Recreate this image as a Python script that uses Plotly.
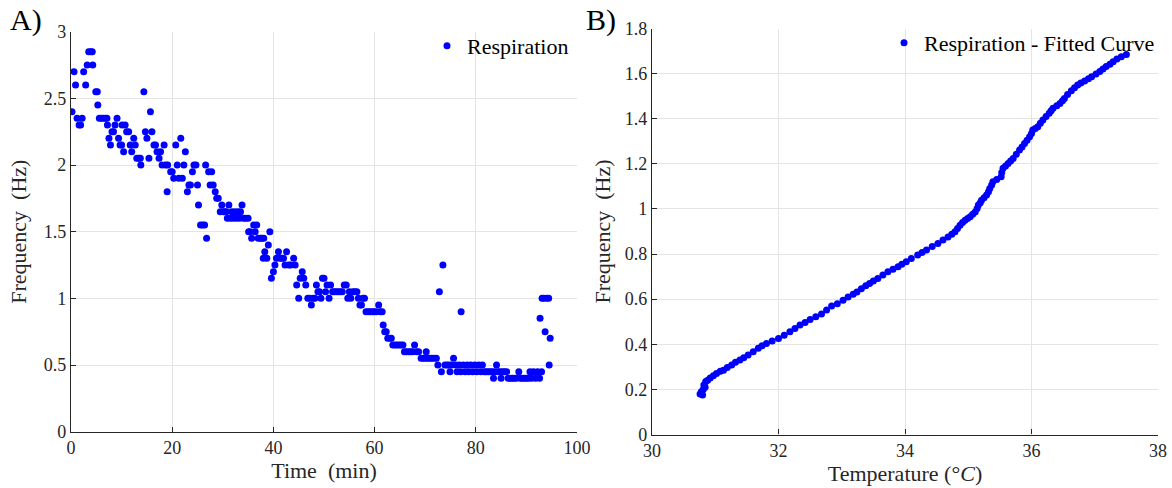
import plotly.graph_objects as go

# ---------------- Panel A: respiration frequency vs time ----------------
time_min = [
    0.2, 0.6, 0.9, 1.2, 1.6, 1.9, 2.2, 2.5, 2.9, 3.2, 3.5, 3.9, 4.2, 4.3, 4.9, 5.2, 5.3, 5.6, 6.0, 6.4,
    6.8, 7.1, 7.2, 7.5, 7.8, 8.1, 8.4, 8.7, 9.1, 9.4, 9.7, 10.0, 10.1, 10.4, 10.7, 11.0, 11.4, 11.7, 12.0, 12.4,
    12.7, 13.0, 13.4, 13.7, 13.8, 14.4, 14.7, 15.0, 15.4, 15.7, 16.0, 16.4, 16.7, 17.0, 17.4, 17.7, 18.0, 18.4, 18.7, 19.0,
    19.1, 19.7, 20.0, 20.3, 20.7, 21.0, 21.3, 21.7, 22.0, 22.3, 22.6, 23.0, 23.3, 23.6, 24.0, 24.3, 24.7, 25.0, 25.2, 25.6,
    26.0, 26.4, 26.6, 26.8, 27.2, 27.5, 27.8, 28.1, 28.5, 28.8, 29.1, 29.5, 29.8, 30.1, 30.4, 30.7, 30.9, 31.2, 31.5, 31.8,
    32.1, 32.4, 32.7, 33.0, 33.3, 33.5, 33.8, 34.1, 34.5, 35.0, 35.1, 35.4, 35.7, 36.1, 36.4, 36.7, 37.0, 37.4, 37.7, 38.0,
    38.1, 38.3, 38.7, 39.0, 39.3, 39.6, 40.0, 40.3, 40.6, 41.0, 41.3, 41.7, 42.0, 42.3, 42.6, 43.0, 43.4, 44.0, 44.3, 44.6,
    45.0, 45.3, 45.7, 46.0, 46.4, 46.8, 47.2, 47.5, 47.9, 48.2, 48.5, 48.8, 49.1, 49.4, 49.7, 50.0, 50.3, 50.6, 51.0, 51.3,
    51.7, 52.0, 52.4, 52.8, 53.2, 53.6, 54.0, 54.4, 54.7, 55.0, 55.3, 55.7, 56.1, 56.5, 56.8, 57.1, 57.4, 57.7, 58.0, 58.3,
    58.7, 59.1, 59.5, 59.9, 60.3, 60.8, 61.1, 61.5, 61.7, 62.0, 62.3, 62.6, 63.0, 63.3, 63.6, 64.0, 64.4, 64.8, 65.2, 65.6,
    65.9, 66.3, 66.7, 67.1, 67.5, 67.9, 68.3, 68.7, 69.2, 69.6, 70.0, 70.2, 70.5, 70.9, 71.3, 71.7, 72.2, 72.5, 72.8, 73.2,
    73.5, 73.9, 74.3, 74.7, 74.9, 75.2, 75.6, 76.0, 76.3, 76.7, 77.0, 77.1, 77.5, 77.9, 78.3, 78.6, 79.0, 79.4, 79.8, 80.2,
    80.6, 81.0, 81.3, 81.7, 82.1, 82.5, 82.9, 83.3, 83.5, 83.8, 84.1, 84.4, 84.8, 85.0, 85.3, 85.7, 86.1, 86.4, 86.8, 87.2,
    87.6, 88.0, 88.5, 88.8, 89.2, 89.6, 90.0, 90.4, 90.7, 91.0, 91.4, 91.8, 92.2, 92.6, 92.7, 93.0, 93.1, 93.4, 93.7, 94.0,
    94.4, 94.5, 94.7,
]
resp_hz = [
    2.40, 2.70, 2.60, 2.35, 2.30, 2.30, 2.35, 2.70, 2.60, 2.75, 2.85, 2.85, 2.85, 2.75, 2.55, 2.55, 2.45, 2.35, 2.35, 2.35,
    2.35, 2.35, 2.30, 2.20, 2.15, 2.25, 2.25, 2.30, 2.35, 2.20, 2.15, 2.15, 2.30, 2.10, 2.30, 2.25, 2.25, 2.15, 2.10, 2.20,
    2.15, 2.05, 2.05, 2.05, 2.00, 2.55, 2.25, 2.20, 2.05, 2.40, 2.25, 2.15, 2.15, 2.10, 2.05, 2.10, 2.00, 2.15, 2.00, 1.80,
    2.00, 1.95, 1.95, 1.90, 2.15, 2.00, 1.90, 2.20, 1.90, 2.00, 2.10, 1.80, 1.85, 1.85, 1.95, 2.00, 2.00, 1.85, 1.70, 1.55,
    1.55, 1.55, 2.00, 1.45, 1.95, 1.85, 1.95, 1.85, 1.80, 1.75, 1.75, 1.65, 1.70, 1.65, 1.65, 1.65, 1.60, 1.70, 1.60, 1.65,
    1.60, 1.65, 1.60, 1.65, 1.60, 1.65, 1.70, 1.60, 1.60, 1.60, 1.50, 1.50, 1.45, 1.55, 1.50, 1.55, 1.45, 1.45, 1.45, 1.30,
    1.45, 1.35, 1.30, 1.40, 1.50, 1.15, 1.20, 1.25, 1.30, 1.35, 1.30, 1.30, 1.30, 1.25, 1.35, 1.25, 1.25, 1.30, 1.25, 1.10,
    1.00, 1.15, 1.20, 1.15, 1.10, 1.00, 1.00, 0.95, 1.00, 1.00, 1.10, 1.05, 1.05, 1.00, 1.15, 1.15, 1.05, 1.10, 1.00, 1.10,
    1.05, 1.05, 1.05, 1.05, 1.05, 1.05, 1.10, 1.10, 1.00, 1.05, 1.00, 1.05, 1.05, 1.05, 1.00, 0.95, 0.95, 1.00, 1.00, 0.90,
    0.90, 0.90, 0.90, 0.90, 0.90, 0.95, 0.90, 0.90, 0.80, 0.75, 0.75, 0.70, 0.70, 0.70, 0.65, 0.65, 0.65, 0.65, 0.65, 0.65,
    0.60, 0.60, 0.60, 0.60, 0.60, 0.65, 0.60, 0.60, 0.55, 0.55, 0.55, 0.60, 0.55, 0.55, 0.55, 0.55, 0.55, 0.50, 1.05, 0.45,
    1.25, 0.50, 0.50, 0.50, 0.45, 0.50, 0.55, 0.50, 0.45, 0.50, 0.45, 0.90, 0.50, 0.45, 0.50, 0.45, 0.50, 0.45, 0.50, 0.45,
    0.50, 0.45, 0.50, 0.45, 0.45, 0.45, 0.45, 0.45, 0.40, 0.45, 0.50, 0.45, 0.45, 0.40, 0.45, 0.45, 0.45, 0.40, 0.40, 0.40,
    0.40, 0.40, 0.45, 0.40, 0.40, 0.40, 0.40, 0.40, 0.45, 0.40, 0.45, 0.40, 0.45, 0.40, 0.85, 0.45, 1.00, 1.00, 0.75, 1.00,
    1.00, 0.50, 0.70,
]

# ---------------- Panel B: fitted frequency vs temperature ----------------
temp_c = [
    30.76, 30.78, 30.80, 30.81, 30.82, 30.84, 30.85, 30.88, 30.92, 30.97, 31.02, 31.08, 31.13, 31.19, 31.26, 31.32, 31.39, 31.45,
    31.52, 31.60, 31.68, 31.74, 31.81, 31.90, 32.00, 32.09, 32.18, 32.26, 32.34, 32.42, 32.50, 32.59, 32.68, 32.76, 32.84, 32.93,
    33.02, 33.10, 33.18, 33.24, 33.31, 33.38, 33.44, 33.50, 33.57, 33.65, 33.73, 33.81, 33.89, 33.95, 34.02, 34.10, 34.20, 34.27,
    34.34, 34.43, 34.52, 34.60, 34.68, 34.74, 34.79, 34.83, 34.87, 34.91, 34.95, 34.99, 35.03, 35.07, 35.11, 35.14, 35.16, 35.19,
    35.21, 35.25, 35.29, 35.32, 35.34, 35.37, 35.39, 35.45, 35.52, 35.53, 35.55, 35.59, 35.63, 35.67, 35.71, 35.76, 35.81, 35.85,
    35.89, 35.93, 35.97, 36.00, 36.02, 36.06, 36.10, 36.14, 36.18, 36.23, 36.28, 36.31, 36.34, 36.40, 36.45, 36.49, 36.52, 36.57,
    36.63, 36.68, 36.73, 36.78, 36.84, 36.90, 36.95, 37.02, 37.08, 37.13, 37.18, 37.24, 37.29, 37.35, 37.42, 37.50,
]
fit_hz = [
    0.180, 0.190, 0.175, 0.200, 0.220, 0.210, 0.235, 0.240, 0.250, 0.260, 0.270, 0.280, 0.285, 0.297, 0.308, 0.320, 0.330, 0.340,
    0.352, 0.367, 0.382, 0.393, 0.404, 0.415, 0.426, 0.440, 0.456, 0.470, 0.485, 0.497, 0.510, 0.522, 0.534, 0.552, 0.570, 0.580,
    0.595, 0.610, 0.622, 0.632, 0.646, 0.660, 0.670, 0.680, 0.692, 0.707, 0.722, 0.733, 0.744, 0.755, 0.766, 0.780, 0.796, 0.807,
    0.818, 0.833, 0.847, 0.862, 0.876, 0.888, 0.899, 0.913, 0.928, 0.940, 0.950, 0.958, 0.965, 0.976, 0.987, 1.002, 1.017, 1.028,
    1.039, 1.050, 1.062, 1.076, 1.091, 1.106, 1.121, 1.130, 1.143, 1.162, 1.180, 1.190, 1.202, 1.213, 1.224, 1.243, 1.261, 1.275,
    1.290, 1.305, 1.320, 1.335, 1.350, 1.357, 1.364, 1.380, 1.394, 1.410, 1.424, 1.435, 1.446, 1.457, 1.468, 1.480, 1.490, 1.507,
    1.524, 1.537, 1.549, 1.558, 1.567, 1.577, 1.586, 1.598, 1.609, 1.620, 1.631, 1.642, 1.653, 1.665, 1.675, 1.685,
]

x1_ticks = [0, 20, 40, 60, 80, 100]
y1_ticks = [0, 0.5, 1, 1.5, 2, 2.5, 3]
x2_ticks = [30, 32, 34, 36, 38]
y2_ticks = [0, 0.2, 0.4, 0.6, 0.8, 1, 1.2, 1.4, 1.6, 1.8]

FONT = "Liberation Serif"
AX = "#262626"
GRID = "#e4e4e4"
BLUE = "#0000ff"

fig = go.Figure()
fig.add_trace(go.Scatter(
    x=time_min, y=resp_hz, mode="markers", name="Respiration", showlegend=True,
    marker=dict(color=BLUE, size=7, line=dict(width=0)),
    xaxis="x", yaxis="y", legend="legend",
))
fig.add_trace(go.Scatter(
    x=temp_c, y=fit_hz, mode="markers", name="Respiration - Fitted Curve", showlegend=True,
    marker=dict(color=BLUE, size=7, line=dict(width=0)),
    xaxis="x2", yaxis="y2", legend="legend2",
))

W, H = 1172, 488


def px_x(p):
    return p / W


def px_y(p):
    return 1 - p / H


common = dict(
    showline=True, linecolor=AX, linewidth=1.3, ticks="inside", ticklen=5, tickwidth=1.2,
    tickcolor=AX, showgrid=True, gridcolor=GRID, gridwidth=1, zeroline=False, mirror=False,
    automargin=False, tickfont=dict(family=FONT, size=18, color=AX),
)
title_font = dict(family=FONT, size=22, color=AX)
legend_font = dict(family=FONT, size=22, color="#000")

fig.update_layout(
    width=W, height=H,
    margin=dict(l=0, r=0, t=0, b=0, autoexpand=False),
    paper_bgcolor="white", plot_bgcolor="white",
    font=dict(family=FONT, color=AX),
    showlegend=True,
    xaxis=dict(domain=[px_x(71), px_x(577)], range=[0, 100], tickvals=x1_ticks, anchor="y",
               title=dict(text="Time  (min)", font=title_font, standoff=4), **common),
    yaxis=dict(domain=[px_y(431.7), px_y(31.7)], range=[0, 3], tickvals=y1_ticks, anchor="x",
               title=dict(text="Frequency  (Hz)", font=title_font, standoff=11), **common),
    xaxis2=dict(domain=[px_x(652), px_x(1158)], range=[30, 38], tickvals=x2_ticks, anchor="y2",
                title=dict(text="Temperature (°<i>C</i>)", font=title_font, standoff=4), **common),
    yaxis2=dict(domain=[px_y(434.5), px_y(28.5)], range=[0, 1.8], tickvals=y2_ticks, anchor="x2",
                title=dict(text="Frequency  (Hz)", font=title_font, standoff=8), **common),
    legend=dict(x=px_x(574), y=px_y(46), xanchor="right", yanchor="middle", itemwidth=30,
                bgcolor="rgba(0,0,0,0)", borderwidth=0, font=legend_font),
    legend2=dict(x=px_x(1160), y=px_y(43), xanchor="right", yanchor="middle", itemwidth=30,
                 bgcolor="rgba(0,0,0,0)", borderwidth=0, font=legend_font),
    annotations=[
        dict(text="A)", x=px_x(8), y=px_y(20), xref="paper", yref="paper", xanchor="left", yanchor="middle",
             showarrow=False, font=dict(family=FONT, size=30, color="#000")),
        dict(text="B)", x=px_x(584), y=px_y(20), xref="paper", yref="paper", xanchor="left", yanchor="middle",
             showarrow=False, font=dict(family=FONT, size=30, color="#000")),
    ],
)

fig.write_html(
    "out.html",
    config={"displayModeBar": False},
    post_script="document.body.style.margin='0';document.body.style.padding='0';",
)
